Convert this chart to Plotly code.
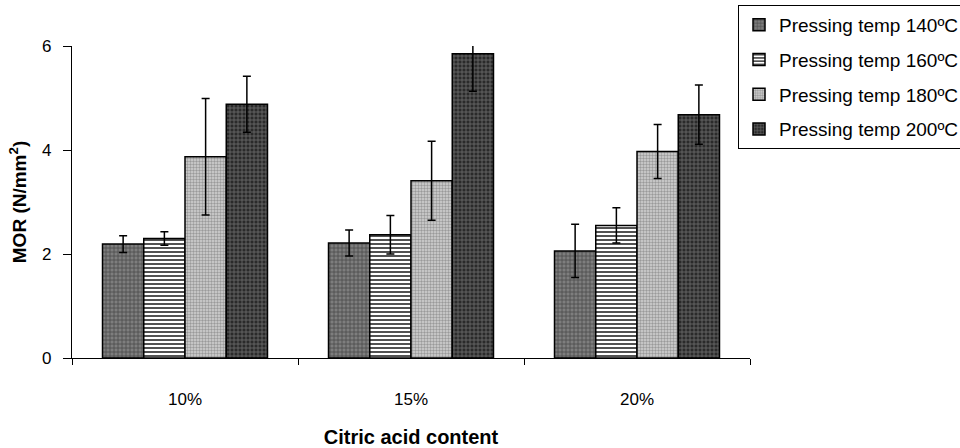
import plotly.graph_objects as go

# Citric acid content (x categories)
categories = ["10%", "15%", "20%"]

# Mean MOR (N/mm²) per pressing temperature
mor_140 = [2.19, 2.21, 2.06]
mor_160 = [2.30, 2.37, 2.55]
mor_180 = [3.87, 3.41, 3.97]
mor_200 = [4.88, 5.85, 4.68]

# Standard deviations
sd_140 = [0.16, 0.25, 0.51]
sd_160 = [0.13, 0.37, 0.34]
sd_180 = [1.12, 0.76, 0.52]
sd_200 = [0.54, 0.72, 0.57]

series_names = [
    "Pressing temp 140ºC",
    "Pressing temp 160ºC",
    "Pressing temp 180ºC",
    "Pressing temp 200ºC",
]

FONT = "Liberation Sans, Arial, sans-serif"

styles = [
    dict(shape="+", bgcolor="#7e7e7e", fgcolor="#474747", size=4, solidity=0.35),
    dict(shape="-", bgcolor="#ffffff", fgcolor="#262626", size=4, solidity=0.4),
    dict(shape=".", bgcolor="#d4d4d4", fgcolor="#9a9a9a", size=3, solidity=0.5),
    dict(shape="+", bgcolor="#2a2a2a", fgcolor="#6e6e6e", size=4, solidity=0.35),
]

fig = go.Figure()
for i, (name, vals, sds, st) in enumerate(
    zip(series_names, [mor_140, mor_160, mor_180, mor_200],
        [sd_140, sd_160, sd_180, sd_200], styles)
):
    fig.add_trace(go.Bar(
        name=name,
        x=categories,
        y=vals,
        legendgroup=f"g{i}",
        marker=dict(
            color=st["bgcolor"],
            line=dict(color="#000000", width=1.5),
            pattern=dict(shape=st["shape"], bgcolor=st["bgcolor"],
                         fgcolor=st["fgcolor"], size=st["size"],
                         solidity=st["solidity"], fillmode="replace"),
        ),
        error_y=dict(type="data", array=sds, visible=True,
                     color="#000000", thickness=1.5, width=4),
    ))

fig.update_layout(
    width=960, height=448,
    margin=dict(l=72, r=210, t=46, b=90, autoexpand=False),
    paper_bgcolor="white",
    plot_bgcolor="white",
    barmode="group",
    bargap=0.27,
    bargroupgap=0,
    font=dict(family=FONT, size=17, color="#000000"),
    legend=dict(
        xref="container", yref="container",
        x=738 / 960, y=1 - 5 / 448,
        xanchor="left", yanchor="top",
        bordercolor="#000000", borderwidth=1,
        font=dict(family=FONT, size=19, color="#000000"),
        traceorder="grouped",
        tracegroupgap=7,
        itemwidth=30,
    ),
    xaxis=dict(
        showline=True, linecolor="#000000", linewidth=1.2,
        ticks="outside", tickson="boundaries", ticklen=6,
        tickcolor="#000000", tickwidth=1.2,
        ticklabelstandoff=25,
        showgrid=False,
        title=dict(text="<b>Citric acid content</b>", standoff=22,
                   font=dict(family=FONT, size=20)),
    ),
    yaxis=dict(
        range=[0, 6], tickvals=[0, 2, 4, 6],
        showline=True, linecolor="#000000", linewidth=1.2,
        ticks="outside", ticklen=8, tickcolor="#000000", tickwidth=1.2,
        ticklabelstandoff=8,
        showgrid=False, zeroline=False,
        title=dict(text="<b>MOR (N/mm<sup>2</sup>)</b>", standoff=10,
                   font=dict(family=FONT, size=19)),
    ),
)

fig.write_html("out.html")
